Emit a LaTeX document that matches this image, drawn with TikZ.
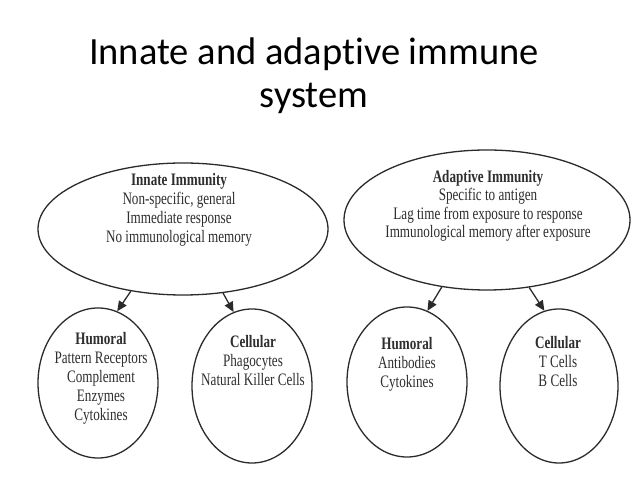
\documentclass[tikz,border=0pt]{standalone}
\usepackage{fontspec}
\usepackage{tikz}
\usetikzlibrary{shapes.geometric,arrows.meta,positioning}
\usepackage{xcolor}

\newfontfamily\titlefont{Carlito}[Ligatures=NoCommon]
\newfontfamily\bodyfont{Liberation Serif}[FakeStretch=0.75]
\definecolor{inkgray}{HTML}{2B2B2B}
\definecolor{txtgray}{HTML}{2E2E2E}

\tikzset{
    oval/.style={draw=inkgray, line width=1.3pt, ellipse, inner sep=0pt},
    oneliner/.style={align=center, inner sep=0pt, anchor=north, text=txtgray,
        font=\bodyfont\fontsize{17.5}{19}\selectfont},
    arr/.style={draw=inkgray, line width=1.3pt, -{Triangle[length=10pt,width=9pt]}}
}

\begin{document}
\begin{tikzpicture}[x=1pt, y=1pt]

            % Tło i wymiary
            \useasboundingbox[fill=white] (0, 0) rectangle (638, 479);

            % Tytuł
            \node[font=\titlefont\fontsize{38.5}{43}\selectfont, align=center, anchor=base] (title) at (314, 371)
                {Innate and adaptive immune\\system};

            % Duże elipsy
            \node[oval, minimum width=290, minimum height=132] (innate) at (183, 250) {};
            \node[oval, minimum width=286, minimum height=140] (adaptive) at (487, 259) {};

            % Małe elipsy
            \node[oval, minimum width=120, minimum height=150] (ihum) at (98, 96) {};
            \node[oval, minimum width=120, minimum height=154] (icel) at (252, 93) {};
            \node[oval, minimum width=120, minimum height=150] (ahum) at (407, 97) {};
            \node[oval, minimum width=118, minimum height=154] (acel) at (559, 93) {};

            % Strzałki
            \draw[arr] (innate.230) -- (ihum.75);
            \draw[arr] (innate.302) -- (icel.104);
            \draw[arr] (adaptive.236) -- (ahum.74.5);
            \draw[arr] (adaptive.302) -- (acel.101);

            % Opisy w dużych elipsach
            \node[oneliner] (innatetxt) at (179, 306)
                {\textbf{Innate Immunity}\\Non-specific, general\\Immediate response\\No immunological memory};
            \node[oneliner, font=\bodyfont\fontsize{17.5}{18.5}\selectfont] (adaptivetxt) at (488, 309)
                {\textbf{Adaptive Immunity}\\Specific to antigen\\Lag time from exposure to response\\Immunological memory after exposure};

            % Opisy w małych elipsach
            \node[oneliner] (ihumtxt) at (101, 147)
                {\textbf{Humoral}\\Pattern Receptors\\Complement\\Enzymes\\Cytokines};
            \node[oneliner] (iceltxt) at (253, 144)
                {\textbf{Cellular}\\Phagocytes\\Natural Killer Cells};
            \node[oneliner] (ahumtxt) at (407, 142)
                {\textbf{Humoral}\\Antibodies\\Cytokines};
            \node[oneliner] (aceltxt) at (558, 143)
                {\textbf{Cellular}\\T Cells\\B Cells};

\end{tikzpicture}
\end{document}
